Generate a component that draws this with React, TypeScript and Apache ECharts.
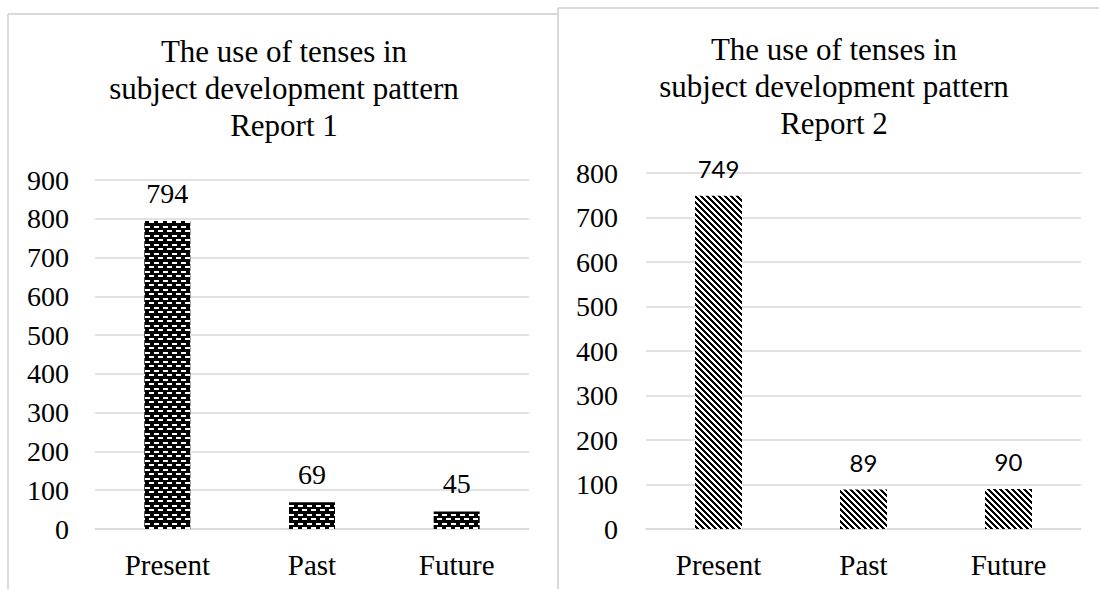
import { useEffect, useRef } from "react";
import * as echarts from "echarts";

const categories = ["Present", "Past", "Future"];
const report1Values = [794, 69, 45];
const report2Values = [749, 89, 90];
const report1Max = 900;
const report2Max = 800;
const tickStep = 100;
const title1 = "The use of tenses in\nsubject development pattern\nReport 1";
const title2 = "The use of tenses in\nsubject development pattern\nReport 2";

const SERIF = '"Liberation Serif", "Times New Roman", serif';
const SANS = 'Lato, "Noto Sans", sans-serif';
const GRID_COLOR = "#d9d9d9";

function makeBrickPattern(): HTMLCanvasElement {
  const c = document.createElement("canvas");
  c.width = 9;
  c.height = 9;
  const ctx = c.getContext("2d")!;
  ctx.fillStyle = "#000";
  ctx.fillRect(0, 0, 9, 9);
  ctx.fillStyle = "#fff";
  ctx.fillRect(1, 1, 5, 2);
  ctx.fillRect(5, 5, 4, 2);
  ctx.fillRect(0, 5, 1, 2);
  return c;
}

function makeDiagPattern(): HTMLCanvasElement {
  const c = document.createElement("canvas");
  c.width = 6;
  c.height = 6;
  const ctx = c.getContext("2d")!;
  ctx.fillStyle = "#fff";
  ctx.fillRect(0, 0, 6, 6);
  ctx.fillStyle = "#000";
  for (let y = 0; y < 6; y++) {
    for (let x = 0; x < 6; x++) {
      if ((((x - y) % 6) + 6) % 6 < 3) ctx.fillRect(x, y, 1, 1);
    }
  }
  return c;
}

export default function App() {
  const ref = useRef<HTMLDivElement>(null);

  useEffect(() => {
    if (!ref.current) return;
    const chart = echarts.init(ref.current, undefined, { renderer: "svg" });

    const yAxisCommon = {
      type: "value" as const,
      min: 0,
      interval: tickStep,
      axisLine: { show: false },
      axisTick: { show: false },
      axisLabel: { fontFamily: SERIF, fontSize: 28, color: "#000", margin: 26 },
      splitLine: { lineStyle: { color: GRID_COLOR, width: 1.5 } },
    };
    const xAxisCommon = {
      type: "category" as const,
      data: categories,
      axisLine: { show: true, lineStyle: { color: GRID_COLOR, width: 1.5 } },
      axisTick: { show: false },
      axisLabel: { fontFamily: SERIF, fontSize: 29, color: "#000", margin: 21 },
    };

    chart.setOption({
      animation: false,
      backgroundColor: "#fff",
      grid: [
        { left: 95, top: 180, width: 434, height: 349, outerBoundsMode: "none" },
        { left: 646, top: 173, width: 435, height: 356, outerBoundsMode: "none" },
      ],
      xAxis: [
        { ...xAxisCommon, gridIndex: 0 },
        { ...xAxisCommon, gridIndex: 1 },
      ],
      yAxis: [
        { ...yAxisCommon, gridIndex: 0, max: report1Max },
        {
          ...yAxisCommon,
          gridIndex: 1,
          max: report2Max,
          axisLabel: { ...yAxisCommon.axisLabel, margin: 28 },
        },
      ],
      series: [
        {
          type: "bar",
          xAxisIndex: 0,
          yAxisIndex: 0,
          data: report1Values,
          barWidth: 46,
          itemStyle: { color: { image: makeBrickPattern(), repeat: "repeat" } },
          label: {
            show: true,
            position: "top",
            distance: 14,
            fontFamily: SERIF,
            fontSize: 28,
            color: "#000",
          },
        },
        {
          type: "bar",
          xAxisIndex: 1,
          yAxisIndex: 1,
          data: report2Values,
          barWidth: 47,
          itemStyle: { color: { image: makeDiagPattern(), repeat: "repeat" } },
          label: {
            show: true,
            position: "top",
            distance: 15,
            fontFamily: SANS,
            fontSize: 24,
            color: "#000",
          },
        },
      ],
      graphic: [
        { type: "line", shape: { x1: 8, y1: 14, x2: 558, y2: 14 }, style: { stroke: GRID_COLOR, lineWidth: 2 } },
        { type: "line", shape: { x1: 8, y1: 14, x2: 8, y2: 600 }, style: { stroke: GRID_COLOR, lineWidth: 2 } },
        { type: "line", shape: { x1: 558, y1: 8, x2: 1110, y2: 8 }, style: { stroke: GRID_COLOR, lineWidth: 2 } },
        { type: "line", shape: { x1: 558, y1: 8, x2: 558, y2: 600 }, style: { stroke: GRID_COLOR, lineWidth: 2 } },
        {
          type: "text",
          x: 284,
          y: 33,
          style: {
            text: title1,
            font: `31px ${SERIF}`,
            fill: "#000",
            align: "center",
            verticalAlign: "top",
            lineHeight: 37,
          },
        },
        {
          type: "text",
          x: 834,
          y: 31,
          style: {
            text: title2,
            font: `31px ${SERIF}`,
            fill: "#000",
            align: "center",
            verticalAlign: "top",
            lineHeight: 37,
          },
        },
      ],
    });

    return () => chart.dispose();
  }, []);

  return (
    <div
      ref={ref}
      style={{ position: "fixed", left: 0, top: 0, width: 1099, height: 589 }}
    />
  );
}
